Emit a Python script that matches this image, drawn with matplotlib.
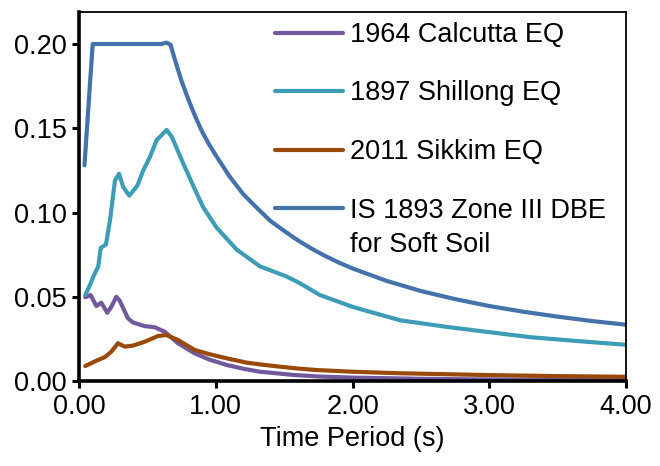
import numpy as np
import matplotlib
matplotlib.use("Agg")
import matplotlib.pyplot as plt
from matplotlib.ticker import FormatStrFormatter

plt.rcParams['font.family'] = ['Liberation Sans', 'DejaVu Sans']

# spectral acceleration curves
calcutta_t = [0.046, 0.085, 0.127, 0.163, 0.207, 0.236, 0.273, 0.297, 0.358, 0.395,
              0.480, 0.553, 0.626, 0.724, 0.846, 0.95, 1.08, 1.2, 1.324, 1.567,
              1.75, 2.0, 2.5, 3.0, 3.5, 4.0]
calcutta_sa = [0.0497, 0.051, 0.0445, 0.0465, 0.0405, 0.044, 0.050, 0.0477, 0.0372, 0.0347,
               0.0326, 0.0319, 0.0293, 0.0224, 0.0164, 0.0128, 0.0095, 0.0073, 0.0055, 0.0036,
               0.0027, 0.0020, 0.0013, 0.0009, 0.0007, 0.0006]

shillong_t = [0.046, 0.08, 0.105, 0.141, 0.159, 0.197, 0.227, 0.263, 0.293, 0.324,
              0.368, 0.427, 0.470, 0.519, 0.568, 0.641, 0.678, 0.763, 0.84, 0.909,
              1.007, 1.153, 1.324, 1.519, 1.616, 1.762, 1.933, 2.0, 2.35, 2.7,
              3.0, 3.3, 3.6, 4.0]
shillong_sa = [0.051, 0.057, 0.062, 0.068, 0.079, 0.081, 0.0955, 0.119, 0.123, 0.115,
               0.110, 0.116, 0.125, 0.133, 0.143, 0.149, 0.145, 0.129, 0.115, 0.103,
               0.091, 0.078, 0.068, 0.062, 0.058, 0.051, 0.046, 0.044, 0.036, 0.032,
               0.029, 0.026, 0.024, 0.0215]

sikkim_t = [0.046, 0.139, 0.188, 0.236, 0.285, 0.334, 0.395, 0.480, 0.578, 0.638,
            0.724, 0.846, 0.95, 1.031, 1.1, 1.226, 1.35, 1.470, 1.6, 1.738,
            2.0, 2.347, 3.0, 3.5, 4.0]
sikkim_sa = [0.0089, 0.0125, 0.0141, 0.0174, 0.0224, 0.0204, 0.021, 0.0233, 0.0267, 0.0273,
             0.0243, 0.0184, 0.0160, 0.0144, 0.0131, 0.0109, 0.0096, 0.0085, 0.0074, 0.0065,
             0.0055, 0.0046, 0.0035, 0.0029, 0.0025]

is1893_t = [0.04, 0.10, 0.60, 0.64, 0.67, 0.70, 0.75, 0.80, 0.85, 0.90,
            0.95, 1.00, 1.10, 1.20, 1.30, 1.40, 1.50, 1.60, 1.70, 1.80,
            1.90, 2.00, 2.25, 2.50, 2.75, 3.00, 3.25, 3.50, 3.75, 4.00]
is1893_sa = [0.128, 0.200, 0.200, 0.2008, 0.1995, 0.191, 0.178, 0.167, 0.157, 0.148,
             0.1406, 0.134, 0.1215, 0.111, 0.1028, 0.095, 0.0891, 0.0835, 0.0786, 0.0742,
             0.0703, 0.0668, 0.0594, 0.0534, 0.0486, 0.0445, 0.0411, 0.0382, 0.0356, 0.0334]

labels = ["1964 Calcutta EQ", "1897 Shillong EQ", "2011 Sikkim EQ", "IS 1893 Zone III DBE"]
extra_line = "for Soft Soil"
colors = ["#72589C", "#3E9DB6", "#994A0A", "#4472AA"]

fs = 19.5
fig = plt.figure(figsize=(6.6, 4.66), dpi=100)
ax = fig.add_axes([79/660, 1 - 381/466, (626 - 79)/660, (381 - 12)/466])

series = [(calcutta_t, calcutta_sa), (shillong_t, shillong_sa),
          (sikkim_t, sikkim_sa), (is1893_t, is1893_sa)]
for (t, sa), lab, c in zip(series, labels, colors):
    ax.plot(t, sa, color=c, lw=3.0, label=lab,
            solid_capstyle='round', solid_joinstyle='round')

ax.set_xlim(0, 4.0)
ax.set_ylim(0, 0.219)
ax.set_xticks([0, 1, 2, 3, 4])
ax.set_yticks([0, 0.05, 0.10, 0.15, 0.20])
ax.xaxis.set_major_formatter(FormatStrFormatter('%.2f'))
ax.yaxis.set_major_formatter(FormatStrFormatter('%.2f'))
ax.tick_params(direction='out', length=5, width=2.2, labelsize=fs, pad=4)
ax.set_xlabel("Time Period (s)", fontsize=fs, labelpad=5)

for side in ['left', 'bottom']:
    ax.spines[side].set_linewidth(2.6)
for side in ['top', 'right']:
    ax.spines[side].set_linewidth(1.3)

leg = ax.legend(loc='upper left', bbox_to_anchor=(275/660, 1 - 22/466),
                bbox_transform=fig.transFigure, frameon=False, fontsize=fs,
                handlelength=2.5, handletextpad=0.28, labelspacing=1.2,
                borderpad=0, borderaxespad=0)
for h in leg.get_lines():
    h.set_linewidth(3.0)

# second line of the last legend label, under its first line
fig.canvas.draw()
bb = leg.get_texts()[3].get_window_extent()
fig.text(bb.x0 / 660, ((bb.y0 + bb.y1) / 2 - 34) / 466, extra_line,
         fontsize=fs, ha='left', va='center')

fig.savefig("out.png", dpi=100)
